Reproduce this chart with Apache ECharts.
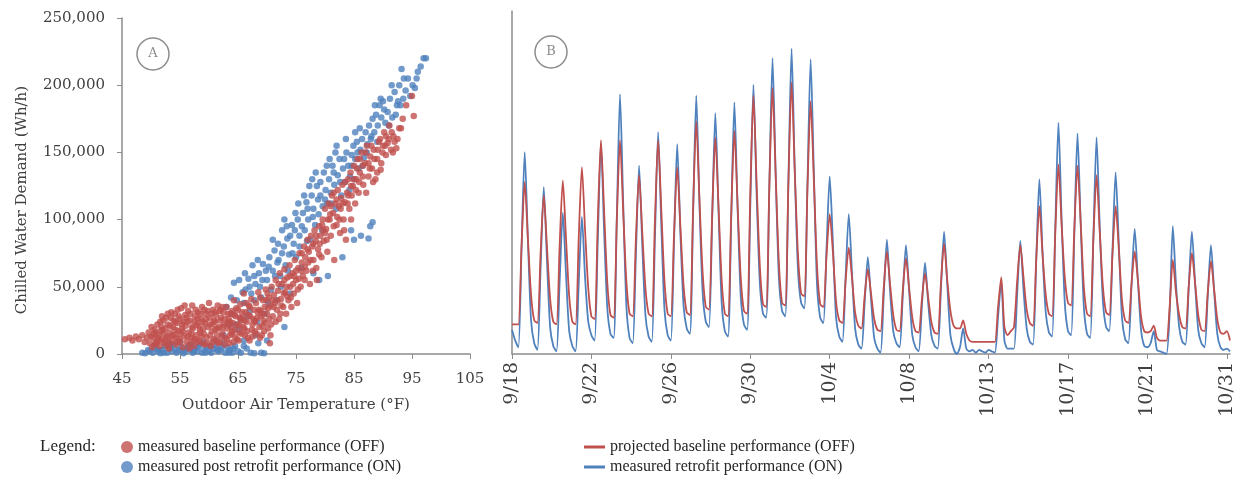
<!DOCTYPE html>
<html>
<head>
<meta charset="utf-8">
<title>Chilled water demand</title>
<script src="https://cdn.jsdelivr.net/npm/echarts@6/dist/echarts.min.js"></script>
<style>
    html, body { margin: 0; padding: 0; background: #fff; }
    #chilled_water { width: 1238px; height: 481px; }
</style>
</head>
<body>
<div id="chilled_water"></div>
<script>

// Data
// ------------------------------

// Panel A: [outdoor air temperature (F), chilled water demand (Wh/h)]
var offPoints = [
    [45.5, 11000], [46.3, 12000], [46.8, 10000], [47.4, 13000], [47.9, 11000], [48.5, 14000], [48.9, 9000], [49.3, 12000], [49.6, 16000], [49.8, 8000],
    [50.2, 5000], [50.4, 12000], [50.6, 18000], [50.9, 9000], [51.1, 22000], [51.3, 14000], [51.5, 6000], [51.7, 17000], [51.9, 11000], [52.1, 25000],
    [52.3, 8000], [52.5, 19000], [52.7, 13000], [52.9, 22000], [53.1, 4000], [53.2, 16000], [53.4, 27000], [53.6, 10000], [53.8, 20000], [54.0, 14000],
    [54.1, 30000], [54.3, 7000], [54.5, 23000], [54.7, 17000], [54.9, 11000], [55.0, 26000], [55.2, 34000], [55.3, 19000], [55.5, 5000], [55.7, 13000],
    [55.9, 29000], [56.0, 21000], [56.2, 9000], [56.4, 32000], [56.5, 16000], [56.7, 25000], [56.9, 12000], [57.1, 36000], [57.2, 19000], [57.4, 6000],
    [57.6, 28000], [57.8, 14000], [57.9, 22000], [58.1, 31000], [58.3, 10000], [58.4, 18000], [58.6, 26000], [58.8, 35000], [58.9, 8000], [59.1, 15000],
    [59.3, 23000], [59.4, 30000], [59.6, 12000], [59.8, 20000], [60.0, 38000], [60.1, 27000], [60.3, 6000], [60.5, 17000], [60.7, 33000], [60.8, 11000],
    [61.0, 24000], [61.2, 29000], [61.4, 14000], [61.5, 36000], [61.7, 20000], [61.9, 9000], [62.1, 27000], [62.3, 16000], [62.5, 31000], [62.6, 22000],
    [62.8, 12000], [63.0, 35000], [63.2, 19000], [63.4, 26000], [63.5, 8000], [63.7, 30000], [63.9, 15000], [64.1, 23000], [64.3, 40000], [64.5, 18000],
    [64.6, 28000], [64.8, 11000], [65.0, 33000], [65.2, 21000], [65.4, 37000], [65.6, 15000], [65.8, 27000], [66.0, 45000], [66.1, 19000], [66.3, 31000],
    [66.5, 24000], [66.7, 12000], [66.9, 36000], [67.1, 28000], [67.3, 41000], [67.5, 22000], [67.7, 33000], [67.9, 17000], [68.1, 38000], [68.3, 27000],
    [68.5, 46000], [68.7, 20000], [68.9, 32000], [69.1, 14000], [69.3, 40000], [69.4, 25000], [69.6, 35000], [69.8, 48000], [70.0, 30000], [70.2, 19000],
    [70.3, 42000], [70.5, 8000], [70.6, 36000], [70.8, 50000], [71.0, 28000], [71.2, 44000], [71.4, 38000], [71.5, 55000], [71.7, 33000], [71.9, 47000],
    [72.1, 26000], [72.2, 60000], [72.4, 41000], [72.6, 52000], [72.8, 35000], [73.0, 63000], [73.1, 46000], [73.3, 30000], [73.5, 57000], [73.7, 40000],
    [73.9, 66000], [74.0, 50000], [74.2, 35000], [74.4, 60000], [74.6, 45000], [74.8, 70000], [75.0, 55000], [75.2, 38000], [75.4, 64000], [75.6, 75000],
    [75.8, 50000], [76.0, 68000], [76.2, 58000], [76.4, 80000], [76.6, 72000], [76.8, 62000], [77.0, 85000], [77.2, 76000], [77.4, 52000], [77.6, 88000],
    [77.8, 80000], [78.0, 70000], [78.2, 92000], [78.4, 84000], [78.6, 55000], [78.8, 78000], [79.0, 95000], [79.2, 88000], [79.4, 72000], [79.6, 100000],
    [79.8, 84000], [80.0, 108000], [80.2, 93000], [80.4, 76000], [80.6, 112000], [80.8, 100000], [81.0, 88000], [81.2, 118000], [81.4, 105000], [81.6, 70000],
    [81.8, 112000], [82.0, 96000], [82.2, 122000], [82.4, 110000], [82.6, 90000], [82.8, 116000], [83.0, 126000], [83.2, 100000], [83.4, 113000], [83.6, 85000],
    [83.8, 120000], [84.0, 130000], [84.2, 108000], [84.4, 135000], [84.6, 118000], [84.8, 125000], [85.0, 140000], [85.2, 112000], [85.4, 130000], [85.6, 145000],
    [85.8, 120000], [86.0, 135000], [86.3, 150000], [86.6, 126000], [86.9, 142000], [87.2, 155000], [87.5, 132000], [87.8, 147000], [88.1, 138000], [88.4, 152000],
    [88.7, 130000], [89.0, 145000], [89.3, 158000], [89.6, 137000], [89.9, 150000], [90.2, 165000], [90.5, 148000], [90.8, 157000], [91.1, 170000], [91.4, 152000],
    [91.8, 162000], [92.3, 153000], [92.8, 168000], [93.4, 175000], [94.0, 185000], [95.0, 192000], [95.3, 177000],
    [50.5, 15000], [51.0, 8000], [51.8, 20000], [52.2, 15000], [52.8, 6000], [53.3, 21000], [53.9, 25000], [54.4, 12000], [54.8, 28000], [55.4, 22000],
    [56.1, 27000], [56.6, 4000], [57.0, 15000], [57.5, 24000], [58.0, 9000], [58.5, 30000], [59.0, 19000], [59.5, 26000], [60.2, 14000], [60.6, 22000],
    [61.1, 18000], [61.6, 8000], [62.0, 33000], [62.4, 20000], [63.1, 11000], [63.6, 24000], [64.0, 17000], [64.4, 29000], [65.1, 10000], [65.5, 25000],
    [66.2, 14000], [66.8, 29000], [67.4, 18000], [68.0, 25000], [68.6, 33000], [69.2, 21000], [69.9, 40000], [70.4, 26000],
    [50.0, 13000], [50.7, 7000], [51.4, 10000], [51.6, 24000], [52.0, 18000], [52.6, 27000], [53.0, 12000], [53.5, 31000], [54.2, 18000], [54.6, 9000],
    [55.1, 15000], [55.6, 24000], [56.3, 13000], [56.8, 30000], [57.3, 10000], [57.7, 33000], [58.2, 21000], [58.7, 13000], [59.2, 33000], [59.7, 8000],
    [60.4, 30000], [60.9, 25000], [61.3, 10000], [61.8, 32000], [62.2, 13000], [62.7, 26000], [63.3, 30000], [63.8, 20000], [64.2, 9000], [64.7, 34000],
    [65.3, 27000], [65.9, 20000], [66.4, 38000], [67.0, 10000], [67.6, 26000], [68.2, 15000], [68.8, 42000], [69.0, 28000], [69.5, 17000], [70.1, 45000],
    [70.7, 22000], [71.1, 35000], [71.8, 40000], [72.3, 30000], [72.9, 45000], [73.4, 50000], [74.1, 42000], [74.7, 58000], [75.3, 48000], [75.9, 62000],
    [76.5, 65000], [77.1, 68000], [77.9, 62000], [78.5, 88000], [79.1, 82000], [79.7, 92000], [80.3, 85000], [80.9, 104000], [81.5, 95000], [82.1, 102000],
    [82.7, 108000], [83.3, 92000], [83.9, 112000], [84.5, 100000], [85.3, 122000], [85.9, 128000], [86.5, 140000], [87.1, 120000], [87.7, 138000], [88.3, 128000],
    [89.1, 152000], [89.7, 142000], [90.4, 155000], [91.0, 160000], [91.7, 150000], [92.5, 160000], [93.1, 168000],
    [50.1, 20000], [50.8, 16000], [51.2, 12000], [51.9, 28000], [52.4, 10000], [52.9, 30000], [53.3, 8000], [53.7, 14000], [54.2, 24000], [54.6, 33000],
    [55.1, 9000], [55.5, 17000], [55.8, 36000], [56.3, 24000], [56.7, 7000], [57.1, 20000], [57.6, 11000], [58.0, 26000], [58.5, 16000], [58.9, 24000],
    [59.3, 7000], [59.8, 32000], [60.2, 22000], [60.6, 9000], [61.0, 31000], [61.4, 19000], [61.9, 25000], [62.3, 35000], [62.7, 7000], [63.2, 23000],
    [63.6, 14000], [64.0, 32000], [64.5, 13000], [64.9, 22000], [65.3, 16000], [65.7, 31000], [66.1, 25000], [66.6, 17000], [67.0, 35000], [67.5, 13000],
    [67.9, 24000], [68.4, 31000], [68.8, 12000], [69.3, 30000], [69.7, 23000], [70.2, 34000], [70.6, 14000], [71.0, 40000], [71.5, 24000], [72.0, 52000],
    [72.5, 36000], [73.0, 55000], [73.5, 43000], [74.0, 58000], [74.5, 52000], [75.0, 62000], [75.5, 56000], [76.0, 75000], [76.5, 55000], [77.0, 78000],
    [77.5, 70000], [78.0, 82000], [78.5, 64000], [79.0, 74000], [79.5, 96000], [80.0, 90000], [80.5, 100000], [81.0, 110000], [81.5, 120000], [82.0, 115000],
    [82.5, 100000], [83.0, 112000], [83.5, 128000], [84.0, 118000], [84.5, 125000], [85.0, 130000], [85.5, 138000], [86.0, 145000], [86.5, 132000], [87.0, 150000],
    [87.5, 142000], [88.0, 155000], [88.5, 145000], [89.0, 135000], [89.5, 160000], [90.0, 155000], [90.5, 162000], [91.5, 165000], [92.0, 158000]
];

var onPoints = [
    [48.5, 1000], [49.0, 500], [49.8, 2000], [50.3, 1000], [50.8, 4000], [51.2, 2000], [51.6, 500], [52.0, 3000], [52.4, 6000], [52.8, 1000],
    [53.2, 4000], [53.6, 2000], [54.0, 7000], [54.4, 1000], [54.8, 3000], [55.2, 5000], [55.6, 500], [56.0, 2000], [56.4, 6000], [56.8, 3000],
    [57.2, 1000], [57.6, 4000], [58.0, 2000], [58.4, 7000], [58.8, 1000], [59.2, 3000], [59.6, 5000], [60.0, 2000], [60.4, 1000], [60.8, 4000],
    [61.2, 6000], [61.6, 2000], [62.0, 3000], [62.4, 8000], [62.8, 1000], [63.2, 5000], [63.6, 3000], [64.0, 1000], [64.5, 6000], [65.0, 2000],
    [66.5, 4000], [67.2, 1000], [67.8, 500], [68.5, 8000], [69.5, 500], [53.0, 8000], [55.0, 9000], [57.0, 7000], [59.0, 9000], [61.0, 10000],
    [49.5, 3000], [50.5, 6000], [51.4, 3000], [52.2, 1000], [53.4, 6000], [54.2, 3000], [55.4, 2000], [56.2, 4000], [57.4, 2000], [58.2, 5000],
    [59.4, 1000], [60.2, 6000], [61.4, 3000], [62.2, 5000], [63.4, 1000], [64.2, 4000], [65.5, 1000], [66.0, 6000], [69.0, 1000],
    [62.5, 14000], [63.5, 22000], [64.0, 30000], [64.3, 53000], [65.0, 18000], [65.5, 26000], [66.0, 38000], [66.3, 48000], [66.8, 56000], [67.0, 32000],
    [67.3, 45000], [67.5, 66000], [68.0, 52000], [68.3, 24000], [68.6, 60000], [69.0, 42000], [69.3, 67000], [69.6, 30000], [70.0, 55000], [70.4, 72000],
    [70.7, 48000], [71.0, 62000], [71.3, 77000], [71.6, 40000], [72.0, 70000], [72.3, 58000], [72.6, 92000], [72.9, 80000], [73.2, 66000], [73.5, 86000],
    [73.8, 74000], [74.0, 45000], [74.3, 96000], [74.6, 82000], [75.0, 72000], [75.3, 100000], [75.6, 88000], [75.9, 64000], [76.2, 105000], [76.5, 92000],
    [76.8, 113000], [77.1, 100000], [77.4, 85000], [77.7, 118000], [78.0, 108000], [78.3, 96000], [78.6, 125000], [78.9, 104000], [79.2, 118000], [79.5, 92000],
    [79.8, 135000], [80.1, 122000], [80.4, 112000], [80.7, 130000], [81.0, 120000], [81.3, 140000], [81.6, 126000], [81.9, 108000], [82.2, 133000], [82.5, 145000],
    [82.8, 118000], [83.1, 138000], [83.4, 128000], [83.7, 150000], [84.0, 140000], [84.3, 132000], [84.6, 148000], [84.9, 155000], [85.2, 145000], [85.5, 158000],
    [85.8, 138000], [86.1, 152000], [86.4, 160000], [86.7, 146000], [87.0, 165000], [87.3, 156000], [87.6, 170000], [87.9, 160000], [88.2, 175000], [88.5, 165000],
    [88.8, 178000], [89.1, 170000], [89.4, 185000], [89.7, 176000], [90.0, 188000], [90.4, 172000], [90.8, 180000], [91.2, 190000], [91.6, 176000], [92.0, 195000],
    [92.4, 185000], [92.8, 200000], [93.2, 212000], [93.5, 190000], [93.9, 196000], [94.3, 205000], [94.7, 192000], [95.1, 200000], [95.5, 198000], [96.0, 210000],
    [96.5, 214000], [97.0, 220000], [97.4, 220000],
    [64.8, 40000], [65.8, 46000], [66.6, 28000], [67.8, 40000], [68.8, 50000], [69.8, 62000], [70.2, 38000], [71.4, 58000], [71.9, 82000], [72.4, 50000],
    [73.0, 100000], [73.6, 62000], [74.4, 75000], [74.9, 105000], [75.6, 80000], [76.0, 95000], [76.9, 84000], [77.3, 125000], [77.9, 102000], [78.8, 115000],
    [79.6, 110000], [80.3, 140000], [81.1, 112000], [81.8, 150000], [82.6, 128000], [83.3, 145000], [84.2, 122000], [85.0, 130000], [85.6, 150000], [86.5, 140000],
    [87.2, 150000], [88.0, 162000], [89.0, 158000], [90.2, 182000], [91.0, 170000], [92.2, 178000], [93.0, 185000],
    [63.0, 35000], [63.8, 42000], [64.6, 22000], [65.2, 55000], [66.2, 60000], [67.0, 50000], [67.8, 58000], [68.4, 70000], [69.2, 55000], [70.3, 65000],
    [71.0, 85000], [71.8, 68000], [72.6, 75000], [73.4, 95000], [74.0, 88000], [74.8, 92000], [75.4, 112000], [76.4, 118000], [77.0, 108000], [77.8, 130000],
    [78.4, 135000], [79.2, 128000], [80.0, 115000], [80.8, 145000], [81.5, 135000], [82.0, 155000], [83.6, 160000], [84.6, 140000], [85.2, 165000], [86.0, 168000],
    [88.6, 185000], [89.6, 190000], [91.5, 200000], [93.6, 205000], [95.8, 205000], [92.6, 188000],
    [78.0, 60000], [79.0, 55000], [80.5, 58000], [83.0, 72000], [85.0, 85000], [86.2, 88000], [87.8, 95000], [88.2, 98000], [87.5, 86000], [84.5, 92000],
    [73.0, 20000], [70.0, 10000], [66.0, 10000], [68.0, 14000]
];

// Panel B: tick labels, one every 25 samples (samples are 4 h apart)
var dateLabels = ['9/18', '9/22', '9/26', '9/30', '10/4', '10/8', '10/13', '10/17', '10/21', '10/31'];

// Panel B: projected baseline performance (OFF), Wh/h, six samples per day
var projectedOff = [
    22000, 22000, 22000, 80000, 128000, 86000,
    44000, 25000, 23000, 75000, 118000, 80000,
    41000, 24000, 22000, 81000, 129000, 86000,
    43000, 24000, 22000, 86000, 139000, 92000,
    49000, 28000, 26000, 99000, 159000, 106000,
    53000, 29000, 27000, 100000, 159000, 106000,
    54000, 30000, 28000, 86000, 133000, 91000,
    49000, 30000, 28000, 100000, 159000, 107000,
    54000, 30000, 28000, 89000, 139000, 95000,
    51000, 31000, 29000, 108000, 173000, 115000,
    61000, 35000, 33000, 103000, 161000, 110000,
    55000, 30000, 28000, 104000, 166000, 111000,
    57000, 32000, 30000, 119000, 192000, 127000,
    66000, 37000, 35000, 125000, 198000, 133000,
    68000, 38000, 36000, 127000, 202000, 136000,
    75000, 45000, 43000, 123000, 188000, 130000,
    66000, 37000, 35000, 73000, 104000, 76000,
    39000, 25000, 23000, 54000, 79000, 57000,
    31000, 21000, 19000, 43000, 63000, 45000,
    26000, 18000, 17000, 49000, 76000, 52000,
    29000, 18000, 17000, 47000, 71000, 49000,
    27000, 17000, 16000, 40000, 60000, 42000,
    24000, 16000, 15000, 52000, 82000, 55000,
    32000, 21000, 19000, 19000, 25000, 15000,
    10000, 9000, 9000, 9000, 9000, 9000,
    9000, 9000, 9000, 35000, 57000, 20000,
    14000, 17000, 20000, 54000, 81000, 57000,
    33000, 23000, 21000, 70000, 110000, 74000,
    44000, 30000, 28000, 90000, 141000, 96000,
    57000, 38000, 36000, 93000, 140000, 98000,
    50000, 30000, 28000, 86000, 133000, 91000,
    50000, 31000, 29000, 74000, 110000, 78000,
    40000, 25000, 23000, 52000, 76000, 55000,
    28000, 17000, 16000, 17000, 21000, 12000,
    10000, 10000, 10000, 35000, 70000, 46000,
    29000, 20000, 19000, 50000, 75000, 53000,
    29000, 18000, 17000, 46000, 69000, 48000,
    26000, 16000, 15000, 17000, 10000
];

// Panel B: measured retrofit performance (ON), Wh/h
var measuredOn = [
    18000, 10000, 5000, 78000, 150000, 85000,
    25000, 8000, 3000, 64000, 124000, 70000,
    20000, 6000, 2000, 54000, 105000, 59000,
    17000, 6000, 2000, 52000, 102000, 57000,
    24000, 14000, 10000, 84000, 157000, 91000,
    34000, 15000, 12000, 102000, 193000, 112000,
    36000, 12000, 8000, 74000, 140000, 81000,
    29000, 13000, 9000, 87000, 165000, 95000,
    33000, 14000, 10000, 83000, 156000, 90000,
    36000, 19000, 15000, 104000, 192000, 112000,
    46000, 24000, 20000, 100000, 179000, 107000,
    38000, 17000, 13000, 100000, 187000, 109000,
    43000, 22000, 18000, 109000, 200000, 118000,
    53000, 30000, 27000, 124000, 220000, 133000,
    57000, 32000, 28000, 128000, 227000, 137000,
    63000, 38000, 34000, 127000, 219000, 136000,
    52000, 27000, 23000, 78000, 132000, 83000,
    27000, 13000, 9000, 57000, 104000, 61000,
    19000, 7000, 4000, 38000, 72000, 41000,
    12000, 4000, 1000, 43000, 85000, 47000,
    17000, 8000, 5000, 43000, 81000, 47000,
    14000, 5000, 2000, 35000, 68000, 38000,
    14000, 6000, 4000, 48000, 91000, 52000,
    14000, 4000, 0, 5000, 19000, 4000,
    2000, 3000, 1000, 3000, 2000, 1000,
    3000, 2000, 1000, 28000, 54000, 10000,
    4000, 4000, 4000, 44000, 84000, 48000,
    19000, 9000, 7000, 69000, 130000, 75000,
    31000, 16000, 13000, 93000, 172000, 100000,
    38000, 17000, 14000, 89000, 164000, 97000,
    35000, 15000, 12000, 87000, 161000, 94000,
    39000, 20000, 17000, 76000, 135000, 82000,
    27000, 11000, 8000, 51000, 93000, 55000,
    18000, 6000, 5000, 8000, 17000, 3000,
    2000, 1000, 0, 30000, 95000, 52000,
    20000, 9000, 7000, 49000, 91000, 53000,
    18000, 8000, 5000, 43000, 81000, 47000,
    15000, 5000, 3000, 4000, 2000
];


// Setup chart
// ------------------------------

var ChilledWaterCharts = function() {

    var _chilledWaterExample = function() {
        if (typeof echarts == 'undefined') {
            console.warn('Warning - echarts.min.js is not loaded.');
            return;
        }

        var chilled_water_element = document.getElementById('chilled_water');
        if (!chilled_water_element) {
            return;
        }

        var chilled_water = echarts.init(chilled_water_element);

        // Common styles
        var redColor = '#c0504d';
        var blueColor = '#4f81bd';
        var axisColor = '#8c8c8c';
        var textColor = '#404040';
        var axisFont = 'DejaVu Serif, serif';
        var legendFont = 'Liberation Serif, serif';

        // One category per 4 h sample
        var slots = projectedOff.map(function(v, i) {
            return String(i);
        });

        // Legend entries, one component each so they can sit in two columns
        var legendItem = function(name, icon, left, top, w, h) {
            return {
                data: [{ name: name, icon: icon }],
                left: left,
                top: top,
                padding: 0,
                itemWidth: w,
                itemHeight: h,
                selectedMode: false,
                textStyle: {
                    fontFamily: legendFont,
                    fontSize: 16,
                    color: '#262626'
                }
            };
        };

        chilled_water.setOption({

            animation: false,

            textStyle: {
                fontFamily: axisFont
            },

            grid: [
                { left: 122, top: 18, width: 348, bottom: 127 },
                { left: 512, top: 11, right: 8, bottom: 127 }
            ],

            legend: [
                legendItem('measured baseline performance (OFF)', 'circle', 121, 439, 12, 12),
                legendItem('measured post retrofit performance (ON)', 'circle', 121, 459, 12, 12),
                legendItem('projected baseline performance (OFF)', 'rect', 584, 439, 21, 3),
                legendItem('measured retrofit performance (ON)', 'rect', 584, 459, 21, 3)
            ],

            graphic: [
                {
                    type: 'text',
                    left: 40,
                    top: 438,
                    style: {
                        text: 'Legend:',
                        fill: '#262626',
                        font: '17px Liberation Serif, serif'
                    }
                },
                {
                    type: 'circle',
                    shape: { cx: 153, cy: 54, r: 16 },
                    style: { fill: 'none', stroke: '#8c8c8c', lineWidth: 1.5 }
                },
                {
                    type: 'text',
                    x: 153,
                    y: 54,
                    style: { text: 'A', fill: '#8c8c8c', font: '13px DejaVu Serif, serif', align: 'center', verticalAlign: 'middle' }
                },
                {
                    type: 'circle',
                    shape: { cx: 551, cy: 52, r: 16 },
                    style: { fill: 'none', stroke: '#8c8c8c', lineWidth: 1.5 }
                },
                {
                    type: 'text',
                    x: 551,
                    y: 52,
                    style: { text: 'B', fill: '#8c8c8c', font: '13px DejaVu Serif, serif', align: 'center', verticalAlign: 'middle' }
                }
            ],

            // Horizontal axes
            xAxis: [
                {
                    gridIndex: 0,
                    type: 'value',
                    min: 45,
                    max: 105,
                    interval: 10,
                    name: 'Outdoor Air Temperature (°F)',
                    nameLocation: 'middle',
                    nameGap: 44,
                    nameTextStyle: { fontSize: 15, color: textColor },
                    axisLine: { lineStyle: { color: axisColor, width: 1.5 } },
                    axisTick: { length: 5, lineStyle: { color: axisColor } },
                    axisLabel: { fontSize: 15, color: textColor, margin: 18 },
                    splitLine: { show: false }
                },
                {
                    gridIndex: 1,
                    type: 'category',
                    boundaryGap: false,
                    data: slots,
                    axisLine: { lineStyle: { color: axisColor, width: 1.5 } },
                    axisTick: { interval: 24, length: 5, lineStyle: { color: axisColor } },
                    axisLabel: {
                        interval: 24,
                        rotate: 90,
                        fontSize: 19,
                        color: textColor,
                        margin: 8,
                        formatter: function(value, index) {
                            return dateLabels[index / 25] || '';
                        }
                    },
                    splitLine: { show: false }
                }
            ],

            // Vertical axes
            yAxis: [
                {
                    gridIndex: 0,
                    type: 'value',
                    min: 0,
                    max: 250000,
                    interval: 50000,
                    name: 'Chilled Water Demand (Wh/h)',
                    nameLocation: 'middle',
                    nameGap: 92,
                    nameTextStyle: { fontSize: 15, color: textColor, padding: [0, 28, 0, 0] },
                    axisLine: { show: true, lineStyle: { color: axisColor, width: 1.5 } },
                    axisTick: { show: true, length: 5, lineStyle: { color: axisColor } },
                    axisLabel: {
                        fontSize: 15,
                        color: textColor,
                        margin: 17,
                        formatter: function(v) {
                            return v.toLocaleString('en-US');
                        }
                    },
                    splitLine: { show: false }
                },
                {
                    gridIndex: 1,
                    type: 'value',
                    min: 0,
                    max: 255000,
                    axisLine: { show: true, lineStyle: { color: axisColor, width: 1.5 } },
                    axisTick: { show: false },
                    axisLabel: { show: false },
                    splitLine: { show: false }
                }
            ],

            // Add series
            series: [
                {
                    name: 'measured post retrofit performance (ON)',
                    type: 'scatter',
                    xAxisIndex: 0,
                    yAxisIndex: 0,
                    symbolSize: 6.5,
                    itemStyle: { color: blueColor },
                    data: onPoints
                },
                {
                    name: 'measured baseline performance (OFF)',
                    type: 'scatter',
                    xAxisIndex: 0,
                    yAxisIndex: 0,
                    symbolSize: 6.5,
                    itemStyle: { color: redColor },
                    data: offPoints
                },
                {
                    name: 'measured retrofit performance (ON)',
                    type: 'line',
                    xAxisIndex: 1,
                    yAxisIndex: 1,
                    showSymbol: false,
                    smooth: 0.25,
                    itemStyle: { color: blueColor },
                    lineStyle: { color: blueColor, width: 1.8 },
                    data: measuredOn
                },
                {
                    name: 'projected baseline performance (OFF)',
                    type: 'line',
                    xAxisIndex: 1,
                    yAxisIndex: 1,
                    showSymbol: false,
                    smooth: 0.25,
                    itemStyle: { color: redColor },
                    lineStyle: { color: redColor, width: 1.8 },
                    data: projectedOff
                }
            ]
        });

        window.addEventListener('resize', function() {
            chilled_water.resize();
        });
    };

    return {
        init: function() {
            _chilledWaterExample();
        }
    };
}();

document.addEventListener('DOMContentLoaded', function() {
    ChilledWaterCharts.init();
});
</script>
</body>
</html>
